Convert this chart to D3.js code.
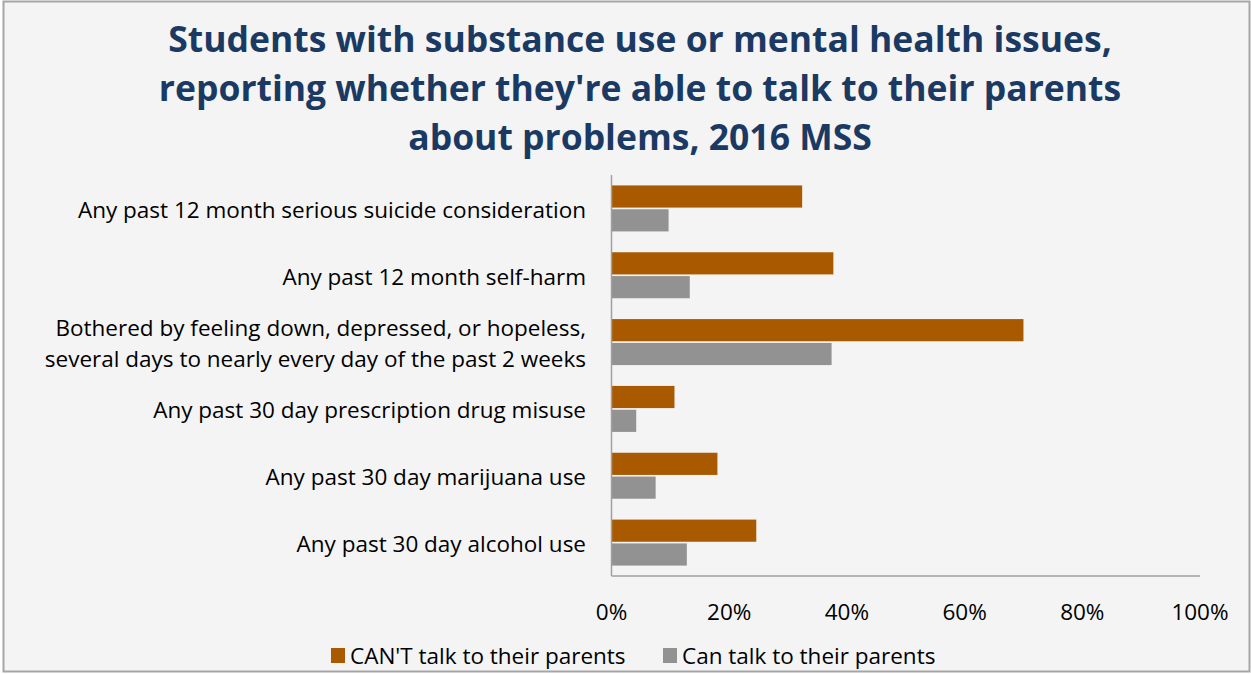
<!DOCTYPE html>
<html>
<head>
<meta charset="utf-8">
<script src="https://cdn.jsdelivr.net/npm/d3@7"></script>
<style>
  body { margin: 0; background: #fff; }
  svg { display: block; font-family: "Open Sans", Lato, sans-serif; }
</style>
</head>
<body>
<svg width="1251" height="674"></svg>
<script>
const categories = [
  ["Any past 12 month serious suicide consideration"],
  ["Any past 12 month self-harm"],
  ["Bothered by feeling down, depressed, or hopeless,", "several days to nearly every day of the past 2 weeks"],
  ["Any past 30 day prescription drug misuse"],
  ["Any past 30 day marijuana use"],
  ["Any past 30 day alcohol use"]
];
const cantTalk = [32.4, 37.7, 70.0, 10.7, 18.0, 24.6];
const canTalk = [9.7, 13.3, 37.4, 4.2, 7.5, 12.8];
const seriesNames = ["CAN'T talk to their parents", "Can talk to their parents"];
const seriesColors = ["#a95a00", "#929292"];
const ticks = [0, 20, 40, 60, 80, 100];
const titleLines = [
  "Students with substance use or mental health issues,",
  "reporting whether they're able to talk to their parents",
  "about problems, 2016 MSS"
];

const svg = d3.select("svg"),
    width = +svg.attr("width"),
    height = +svg.attr("height");

// chart area background and border
svg.append("rect")
  .attr("x", 3.5).attr("y", 1.5)
  .attr("width", width - 5).attr("height", height - 4)
  .attr("fill", "#f4f4f4")
  .attr("stroke", "#a6a6a6")
  .attr("stroke-width", 2);

svg.append("g").selectAll("text")
  .data(titleLines)
  .enter().append("text")
  .attr("x", 640)
  .attr("y", (d, i) => 52 + i * 49)
  .attr("text-anchor", "middle")
  .attr("fill", "#1b3a63")
  .attr("font-size", 35.5)
  .attr("font-weight", "bold")
  .text(d => d);

const x = d3.scaleLinear().domain([0, 100]).range([611.5, 1200]);
const y = d3.scaleBand().domain(d3.range(categories.length)).range([175, 576]);
const sub = d3.scaleBand().domain([0, 1]).range([y.bandwidth() / 2 - 23, y.bandwidth() / 2 + 23]).paddingInner(0.07);

const rows = svg.append("g").selectAll("g")
  .data(categories.map((c, i) => ({ label: c, vals: [cantTalk[i], canTalk[i]] })))
  .enter().append("g")
  .attr("transform", (d, i) => "translate(0," + y(i) + ")");

rows.selectAll("rect")
  .data(d => d.vals)
  .enter().append("rect")
  .attr("x", x(0))
  .attr("y", (d, j) => sub(j))
  .attr("width", d => x(d) - x(0))
  .attr("height", sub.bandwidth())
  .attr("fill", (d, j) => seriesColors[j]);

// category labels, wrapped ones get one text per line
rows.each(function (d) {
  const g = d3.select(this);
  const n = d.label.length;
  d.label.forEach((line, k) => {
    g.append("text")
      .attr("x", 586)
      .attr("y", y.bandwidth() / 2 + 9.5 + (k - (n - 1) / 2) * 31)
      .attr("text-anchor", "end")
      .attr("font-size", 22.5)
      .attr("fill", "#000")
      .text(line);
  });
});

// axes
svg.append("line")
  .attr("x1", x(0)).attr("x2", x(0))
  .attr("y1", 175).attr("y2", 576)
  .attr("stroke", "#a0a0a0").attr("stroke-width", 1.5);
svg.append("line")
  .attr("x1", x(0)).attr("x2", x(100))
  .attr("y1", 576).attr("y2", 576)
  .attr("stroke", "#a0a0a0").attr("stroke-width", 1.5);

svg.append("g").selectAll("text")
  .data(ticks)
  .enter().append("text")
  .attr("x", d => x(d))
  .attr("y", 620)
  .attr("text-anchor", "middle")
  .attr("font-size", 22.5)
  .text(d => d + "%");

// legend
const legendX = [331, 663];
const legend = svg.append("g").selectAll("g")
  .data(seriesNames)
  .enter().append("g")
  .attr("transform", (d, i) => "translate(" + legendX[i] + ",648)");
legend.append("rect")
  .attr("width", 14).attr("height", 15)
  .attr("fill", (d, i) => seriesColors[i]);
legend.append("text")
  .attr("x", 19).attr("y", 16)
  .attr("font-size", 22.5)
  .text(d => d);
</script>
</body>
</html>
